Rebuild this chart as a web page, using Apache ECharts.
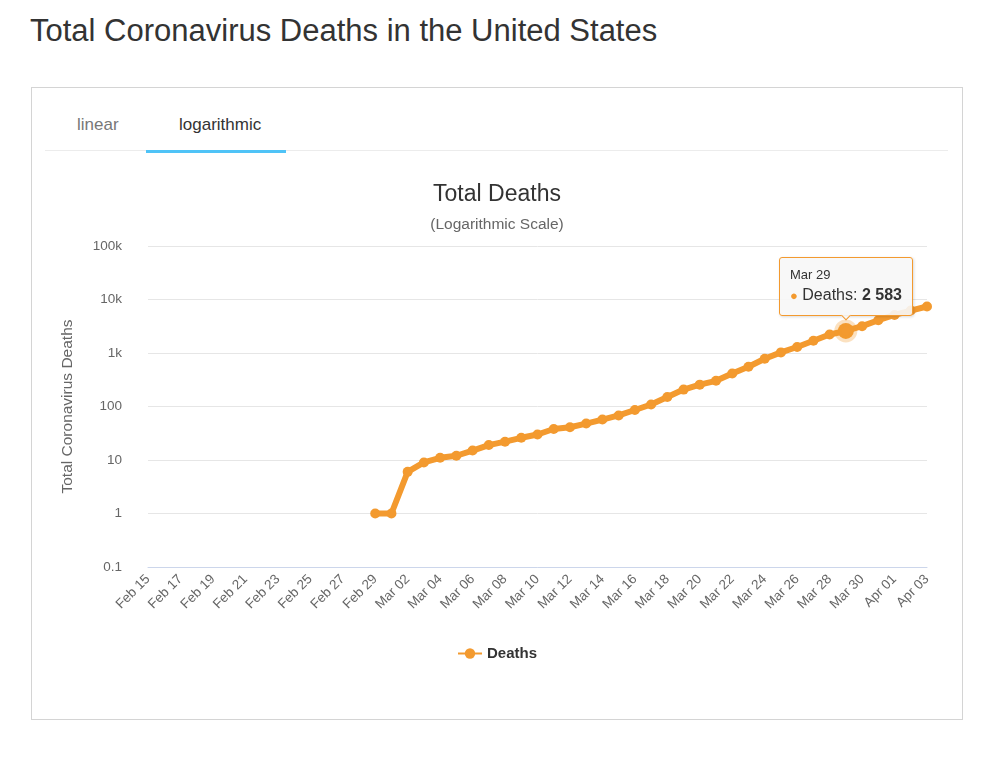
<!DOCTYPE html>
<html>
<head>
<meta charset="utf-8">
<script src="https://cdn.jsdelivr.net/npm/echarts@6/dist/echarts.min.js"></script>
<style>
    body { margin: 0; width: 1000px; height: 758px; position: relative; background: #fff;
           font-family: "Liberation Sans", Arial, sans-serif; overflow: hidden; }
    h1 { position: absolute; left: 30px; top: 13px; margin: 0; font-size: 31px; font-weight: normal; color: #333; }
    .box { position: absolute; left: 31px; top: 87px; width: 930px; height: 631px; border: 1px solid #d4d4d4; }
    .sep { position: absolute; left: 45px; top: 150px; width: 903px; height: 1px; background: #ececec; }
    .tab { position: absolute; top: 115px; font-size: 17px; }
    .tab-lin { left: 77px; color: #777; }
    .tab-log { left: 179px; color: #333; }
    .underline { position: absolute; left: 146px; top: 150px; width: 140px; height: 3px; background: #4fc3f7; }
    #chart { position: absolute; left: 32px; top: 88px; width: 930px; height: 631px; }
</style>
</head>
<body>
<h1>Total Coronavirus Deaths in the United States</h1>
<div class="box"></div>
<div class="sep"></div>
<div class="tab tab-lin">linear</div>
<div class="tab tab-log">logarithmic</div>
<div class="underline"></div>
<div id="chart"></div>
<script>
const ORANGE = '#F39A2F';

const dates = [
    'Feb 15', 'Feb 16', 'Feb 17', 'Feb 18', 'Feb 19', 'Feb 20', 'Feb 21', 'Feb 22', 'Feb 23',
    'Feb 24', 'Feb 25', 'Feb 26', 'Feb 27', 'Feb 28', 'Feb 29',
    'Mar 01', 'Mar 02', 'Mar 03', 'Mar 04', 'Mar 05', 'Mar 06', 'Mar 07', 'Mar 08', 'Mar 09', 'Mar 10',
    'Mar 11', 'Mar 12', 'Mar 13', 'Mar 14', 'Mar 15', 'Mar 16', 'Mar 17', 'Mar 18', 'Mar 19', 'Mar 20',
    'Mar 21', 'Mar 22', 'Mar 23', 'Mar 24', 'Mar 25', 'Mar 26', 'Mar 27', 'Mar 28', 'Mar 29', 'Mar 30',
    'Mar 31', 'Apr 01', 'Apr 02', 'Apr 03'
];

// no data before Feb 29
const deaths = [
    null, null, null, null, null, null, null, null, null, null, null, null, null, null, 1,
    1, 6, 9, 11, 12, 15, 19, 22, 26, 30,
    38, 41, 48, 57, 68, 86, 109, 150, 207, 256,
    302, 414, 552, 781, 1027, 1295, 1695, 2221, 2583, 3172,
    4099, 5141, 6211, 7392
];

const yTickLabels = { '0.1': '0.1', '1': '1', '10': '10', '100': '100', '1000': '1k', '10000': '10k', '100000': '100k' };

const hoverIndex = dates.indexOf('Mar 29');

function spaced(n) {
    return String(n).replace(/\B(?=(\d{3})+(?!\d))/g, ' ');
}

const chart = echarts.init(document.getElementById('chart'));
chart.setOption({
    animation: false,
    textStyle: { fontFamily: '"Liberation Sans", Arial, sans-serif' },
    title: [
        { text: 'Total Deaths', left: 'center', top: 90, textStyle: { fontSize: 23, fontWeight: 'normal', color: '#333' } },
        { text: '(Logarithmic Scale)', left: 'center', top: 124, textStyle: { fontSize: 15.5, fontWeight: 'normal', color: '#666' } }
    ],
    tooltip: {
        trigger: 'item',
        position: 'top',
        alwaysShowContent: true,
        backgroundColor: 'rgba(247,247,247,0.9)',
        borderColor: ORANGE,
        borderWidth: 1,
        borderRadius: 3,
        padding: [8, 10],
        extraCssText: 'box-shadow: 1px 1px 3px rgba(0,0,0,0.15);',
        formatter: function (p) {
            return '<div style="font-size:13px;color:#333;line-height:18px">' + p.name + '</div>' +
                '<div style="font-size:16px;color:#333;line-height:22px">' +
                '<span style="color:' + ORANGE + ';font-size:13px">\u25CF</span> Deaths: <b>' + spaced(p.value) + '</b></div>';
        }
    },
    legend: {
        top: 553,
        left: 'center',
        itemWidth: 24,
        itemHeight: 13,
        textStyle: { fontSize: 15, fontWeight: 'bold', color: '#333' },
        data: ['Deaths']
    },
    grid: { left: 116, right: 35, top: 158, bottom: 152 },
    xAxis: {
        type: 'category',
        data: dates,
        boundaryGap: false,
        axisLine: { lineStyle: { color: '#ccd6eb' } },
        axisTick: { show: false },
        axisLabel: { interval: 1, rotate: 45, color: '#666', fontSize: 13.5, margin: 10 }
    },
    yAxis: {
        type: 'log',
        logBase: 10,
        min: 0.1,
        max: 100000,
        interval: 1,
        name: 'Total Coronavirus Deaths',
        nameLocation: 'middle',
        nameGap: 72,
        nameTextStyle: { fontSize: 15.5, color: '#666' },
        axisLine: { show: false },
        axisTick: { show: false },
        splitLine: { lineStyle: { color: '#e6e6e6' } },
        axisLabel: {
            color: '#666',
            fontSize: 13.5,
            margin: 26,
            formatter: function (v) {
                return yTickLabels[String(+v.toPrecision(6))] || '';
            }
        }
    },
    series: [{
        name: 'Deaths',
        type: 'line',
        data: deaths,
        color: ORANGE,
        symbol: 'circle',
        symbolSize: 10,
        showSymbol: true,
        lineStyle: { width: 6, color: ORANGE },
        itemStyle: { color: ORANGE },
        markPoint: {
            symbol: 'circle',
            symbolSize: 16,
            silent: true,
            label: { show: false },
            itemStyle: { color: ORANGE, borderColor: 'rgba(243,154,47,0.3)', borderWidth: 7 },
            data: [{ coord: [dates[hoverIndex], deaths[hoverIndex]] }]
        }
    }]
});

chart.dispatchAction({ type: 'showTip', seriesIndex: 0, dataIndex: hoverIndex });
</script>
</body>
</html>
